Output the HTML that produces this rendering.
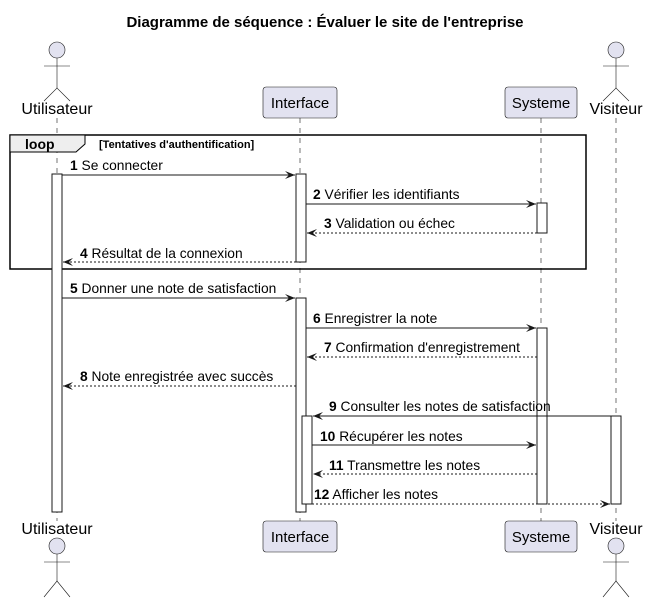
<!DOCTYPE html>
<html><head><meta charset="utf-8"><style>
html,body{margin:0;padding:0;background:#fff;}
svg{display:block;}
text{font-family:"Liberation Sans","DejaVu Sans",sans-serif;fill:#000;}
</style></head><body>
<svg width="645" height="602" viewBox="0 0 645 602" xmlns="http://www.w3.org/2000/svg">
<defs>
<marker id="a" viewBox="0 0 10 10" refX="10" refY="5" markerWidth="10" markerHeight="10" orient="auto" markerUnits="userSpaceOnUse">
<path d="M0,1 L10,5 L0,9 L4,5 Z" fill="#181818"/></marker>
</defs>
<text x="325" y="27" font-size="15" font-weight="bold" text-anchor="middle">Diagramme de séquence : Évaluer le site de l'entreprise</text>

<g stroke="#181818" stroke-width="0.6" stroke-dasharray="5,5">
<line x1="57" y1="118" x2="57" y2="521"/>
<line x1="300" y1="118" x2="300" y2="521"/>
<line x1="541" y1="118" x2="541" y2="521"/>
<line x1="616" y1="118" x2="616" y2="521"/>
</g>

<g stroke="#181818" stroke-width="0.6" fill="none">
<circle cx="57" cy="50" r="8" fill="#E2E2F0"/>
<line x1="57" y1="58" x2="57" y2="88"/><line x1="44" y1="66" x2="70" y2="66"/>
<path d="M44,101 L57,88 L70,101"/>
<circle cx="616" cy="50" r="8" fill="#E2E2F0"/>
<line x1="616" y1="58" x2="616" y2="88"/><line x1="603" y1="66" x2="629" y2="66"/>
<path d="M603,101 L616,88 L629,101"/>
<circle cx="57" cy="546" r="8" fill="#E2E2F0"/>
<line x1="57" y1="554" x2="57" y2="581"/><line x1="44" y1="562" x2="70" y2="562"/>
<path d="M44,597 L57,581 L70,597"/>
<circle cx="616" cy="546" r="8" fill="#E2E2F0"/>
<line x1="616" y1="554" x2="616" y2="581"/><line x1="603" y1="562" x2="629" y2="562"/>
<path d="M603,597 L616,581 L629,597"/>
</g>
<g font-size="16" text-anchor="middle">
<text x="57" y="114">Utilisateur</text>
<text x="616" y="114">Visiteur</text>
<text x="57" y="534">Utilisateur</text>
<text x="616" y="534">Visiteur</text>
</g>

<g fill="#E2E2F0" stroke="#181818" stroke-width="0.6">
<rect x="263" y="87" width="74" height="31" rx="3"/>
<rect x="505" y="87" width="72" height="31" rx="3"/>
<rect x="263" y="521" width="74" height="31" rx="3"/>
<rect x="505" y="521" width="72" height="31" rx="3"/>
</g>
<g font-size="15" text-anchor="middle">
<text x="300" y="108">Interface</text>
<text x="541" y="108">Systeme</text>
<text x="300" y="542">Interface</text>
<text x="541" y="542">Systeme</text>
</g>

<rect x="10" y="135" width="576" height="134" fill="none" stroke="#000" stroke-width="1.5"/>
<path d="M10,135 L85,135 L85,144 L76,152 L10,152 Z" fill="#EEEEEE" stroke="#000" stroke-width="1"/>
<text x="25" y="149" font-size="14" font-weight="bold">loop</text>
<text x="99" y="148" font-size="11" font-weight="bold">[Tentatives d'authentification]</text>

<g fill="#fff" stroke="#181818" stroke-width="1">
<rect x="52" y="174" width="10" height="338"/>
<rect x="296" y="174" width="10" height="88"/>
<rect x="537" y="203" width="10" height="30"/>
<rect x="296" y="298" width="10" height="214"/>
<rect x="537" y="328" width="10" height="176"/>
<rect x="302" y="416" width="10" height="88"/>
<rect x="611" y="416" width="10" height="88"/>
</g>

<g stroke="#181818" stroke-width="1" fill="none">
<line x1="62" y1="175" x2="295" y2="175" marker-end="url(#a)"/>
<line x1="306" y1="204" x2="536" y2="204" marker-end="url(#a)"/>
<line x1="537" y1="233" x2="307" y2="233" stroke-dasharray="2,2" marker-end="url(#a)"/>
<line x1="296" y1="262" x2="63" y2="262" stroke-dasharray="2,2" marker-end="url(#a)"/>
<line x1="62" y1="298" x2="295" y2="298" marker-end="url(#a)"/>
<line x1="306" y1="328" x2="536" y2="328" marker-end="url(#a)"/>
<line x1="537" y1="357" x2="307" y2="357" stroke-dasharray="2,2" marker-end="url(#a)"/>
<line x1="296" y1="386" x2="63" y2="386" stroke-dasharray="2,2" marker-end="url(#a)"/>
<line x1="611" y1="416" x2="313" y2="416" marker-end="url(#a)"/>
<line x1="312" y1="445" x2="536" y2="445" marker-end="url(#a)"/>
<line x1="537" y1="474" x2="313" y2="474" stroke-dasharray="2,2" marker-end="url(#a)"/>
<line x1="312" y1="504" x2="610" y2="504" stroke-dasharray="2,2" marker-end="url(#a)"/>
</g>
<g font-size="13.8">
<text x="70" y="170"><tspan font-weight="bold">1</tspan> Se connecter</text>
<text x="313" y="199"><tspan font-weight="bold">2</tspan> Vérifier les identifiants</text>
<text x="324" y="228"><tspan font-weight="bold">3</tspan> Validation ou échec</text>
<text x="80" y="258"><tspan font-weight="bold">4</tspan> Résultat de la connexion</text>
<text x="70" y="293"><tspan font-weight="bold">5</tspan> Donner une note de satisfaction</text>
<text x="313" y="323"><tspan font-weight="bold">6</tspan> Enregistrer la note</text>
<text x="324" y="352"><tspan font-weight="bold">7</tspan> Confirmation d'enregistrement</text>
<text x="80" y="381"><tspan font-weight="bold">8</tspan> Note enregistrée avec succès</text>
<text x="329" y="411"><tspan font-weight="bold">9</tspan> Consulter les notes de satisfaction</text>
<text x="320" y="441"><tspan font-weight="bold">10</tspan> Récupérer les notes</text>
<text x="329" y="470"><tspan font-weight="bold">11</tspan> Transmettre les notes</text>
<text x="314" y="499"><tspan font-weight="bold">12</tspan> Afficher les notes</text>
</g>
</svg>
</body></html>
